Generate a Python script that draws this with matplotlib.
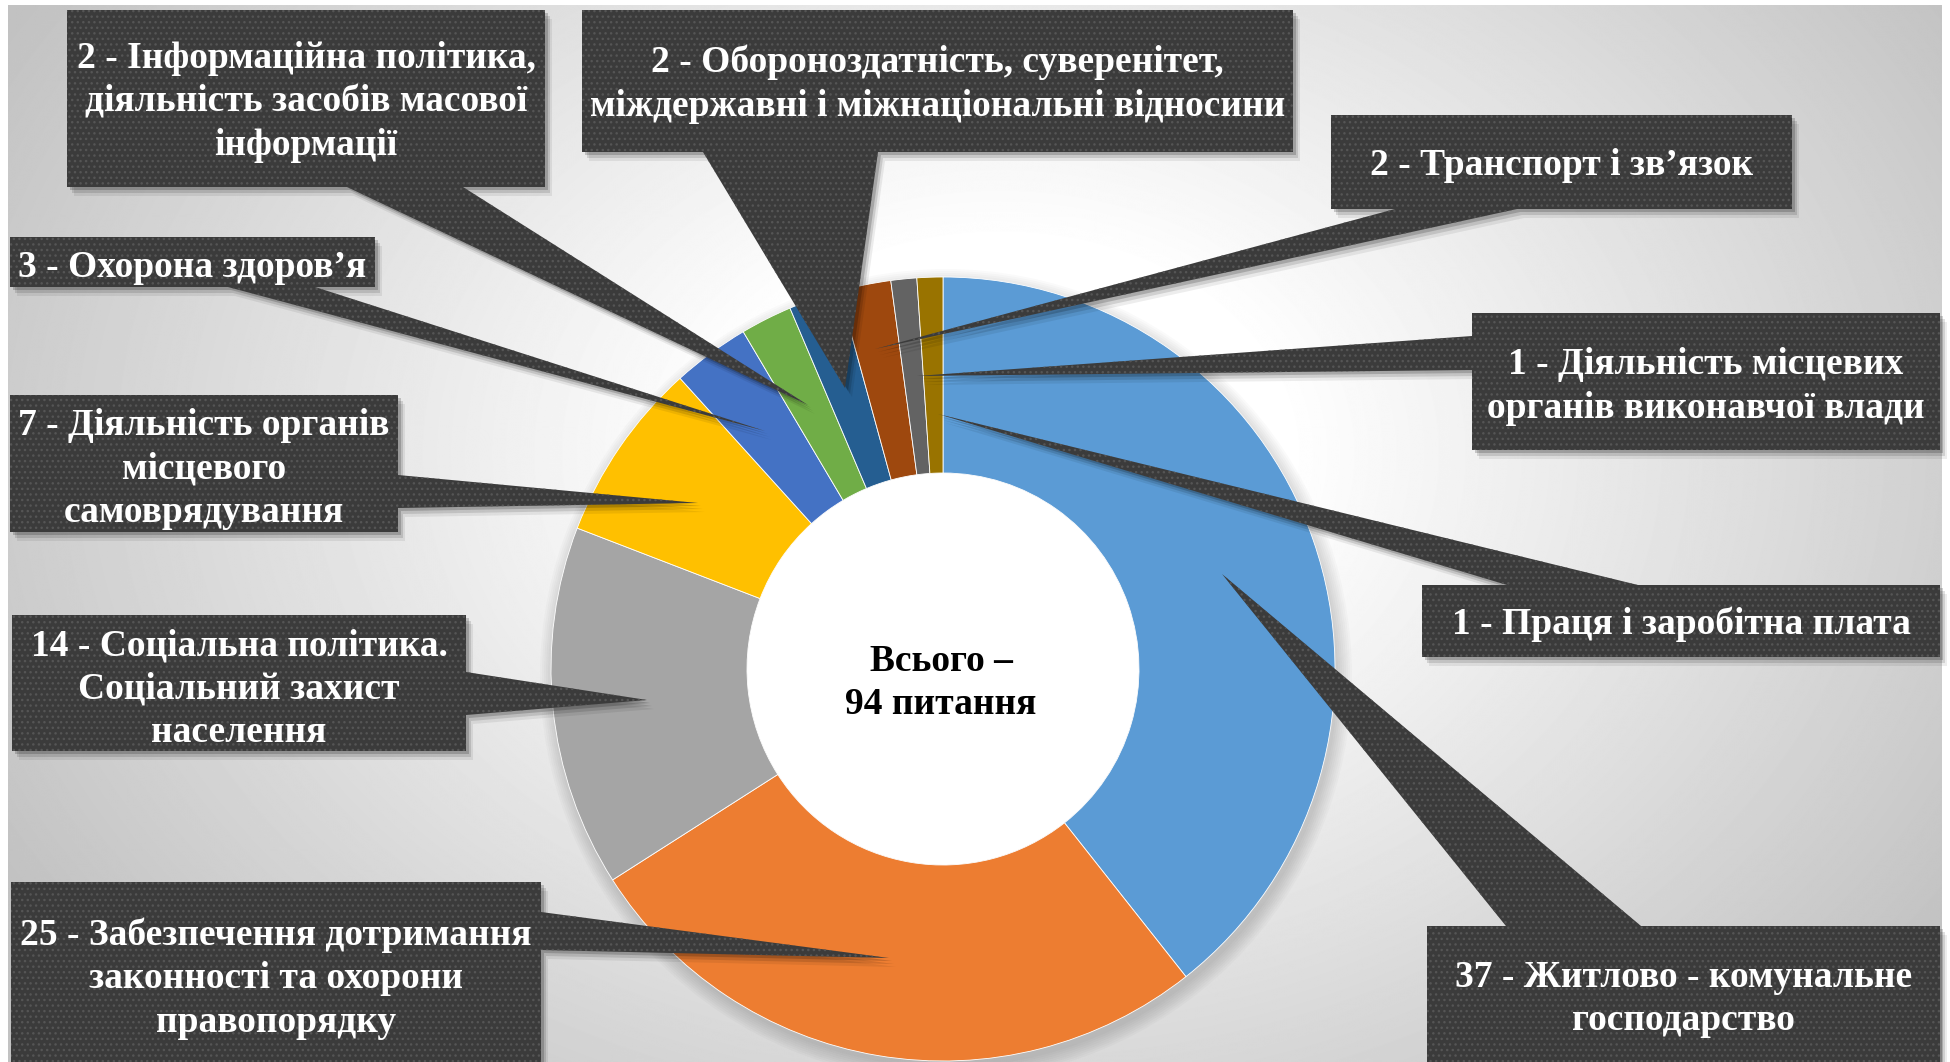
import numpy as np
import matplotlib
matplotlib.use("Agg")
import matplotlib.pyplot as plt
from matplotlib.patches import Polygon, Circle

# data (clockwise from 12 o'clock)
values = [37, 25, 14, 7, 3, 2, 2, 2, 1, 1]
names = [
    "Житлово - комунальне\nгосподарство",
    "Забезпечення дотримання\nзаконності та охорони\nправопорядку",
    "Соціальна політика.\nСоціальний захист\nнаселення",
    "Діяльність органів\nмісцевого\nсамоврядування",
    "Охорона здоров’я",
    "Інформаційна політика,\nдіяльність засобів масової\nінформації",
    "Обороноздатність, суверенітет,\nміждержавні і міжнаціональні відносини",
    "Транспорт і зв’язок",
    "Діяльність місцевих\nорганів виконавчої влади",
    "Праця і заробітна плата",
]
colors = ["#5B9BD5", "#ED7D31", "#A5A5A5", "#FFC000", "#4472C4",
          "#70AD47", "#255E91", "#9E480E", "#636363", "#997300"]

# callout layout in pixels: box (x0, y0, x1, y1), y of first text line,
# pointer base points, pointer tip
boxes = [
    (1427, 926, 1940, 1070),
    (11, 882, 541, 1070),
    (12, 615, 466, 751),
    (10, 395, 398, 532),
    (10, 237, 375, 287),
    (67, 10, 545, 187),
    (582, 10, 1293, 152),
    (1331, 115, 1792, 209),
    (1472, 313, 1940, 450),
    (1422, 585, 1940, 657),
]
first_line = [975, 933, 643, 423, 265, 56, 60, 163, 362, 622]
bases = [
    ((1506, 926), (1641, 926)),
    ((541, 912), (541, 950)),
    ((466, 672), (466, 715)),
    ((398, 475), (398, 508)),
    ((228, 287), (315, 287)),
    ((347, 187), (463, 187)),
    ((703, 152), (878, 152)),
    ((1395, 209), (1517, 209)),
    ((1472, 336), (1472, 370)),
    ((1507, 585), (1638, 585)),
]
tips = [
    (1222, 574), (889, 958), (647, 700), (698, 503), (765, 431),
    (808, 405), (845, 388), (875, 349), (917, 376), (938, 414),
]

W, H = 1950, 1062
cx, cy, R = 943, 669, 392
FONT = "Liberation Serif"
FS = 27
PITCH = 43.5     # px between text lines
BASE_OFF = 12    # px from line middle to baseline

fig = plt.figure(figsize=(W / 100, H / 100), dpi=100)
fig.patch.set_facecolor("white")
ax = fig.add_axes([0, 0, 1, 1])

# background: soft radial gradient
yy, xx = np.mgrid[0:H, 0:W]
d = np.sqrt(((xx - 1000) / 1150.0) ** 2 + ((yy - 450) / 850.0) ** 2)
t = np.clip((d - 0.25) / 0.75, 0, 1)
bg = 1 - 0.24 * t
ax.imshow(bg, cmap="gray", vmin=0, vmax=1, extent=(8, 1942, H, 5),
          interpolation="bilinear", zorder=0)

# soft shadow under the ring
for k in range(8):
    ax.add_patch(Circle((cx + 3, cy + 6), R + 14 - 2 * k, fc="black",
                        ec="none", alpha=0.018, zorder=1))

wedges, _ = ax.pie(values, colors=colors, radius=R, center=(cx, cy),
                   startangle=-90, counterclock=True,
                   wedgeprops=dict(width=R / 2, edgecolor="white", linewidth=0.6))
for w in wedges:
    w.set_zorder(2)
ax.add_patch(Circle((cx, cy), R / 2, fc="white", ec="none", zorder=1.5))


def put_lines(x, y_first, text, color, z):
    for j, line in enumerate(text.split("\n")):
        ax.text(x, y_first + j * PITCH + BASE_OFF, line, ha="center",
                va="baseline", fontsize=FS, fontweight="bold", family=FONT,
                color=color, zorder=z)


put_lines(cx - 2, 659, f"Всього –\n{sum(values)} питання", "black", 3)

# callouts
for i, (v, n) in enumerate(zip(values, names)):
    x0, y0, x1, y1 = boxes[i]
    rect = [(x0, y0), (x1, y0), (x1, y1), (x0, y1)]
    tri = [bases[i][0], bases[i][1], tips[i]]
    z = 5 + i * 0.1
    for dx, dy, a in [(7, 9, 0.07), (5, 6, 0.12), (3, 3, 0.18)]:
        for shape in (rect, tri):
            ax.add_patch(Polygon([(px + dx, py + dy) for px, py in shape],
                                 closed=True, fc="black", ec="none",
                                 alpha=a, zorder=z))
    for shape in (rect, tri):
        ax.add_patch(Polygon(shape, closed=True, fc="#3b3b3b", ec="#555555",
                             lw=0, hatch="...", zorder=z + 0.01))
    put_lines((x0 + x1) / 2, first_line[i], f"{v} - {n}", "white", z + 0.05)

ax.set_xlim(0, W)
ax.set_ylim(H, 0)
ax.axis("off")

fig.savefig("out.png", dpi=100, facecolor="white")
